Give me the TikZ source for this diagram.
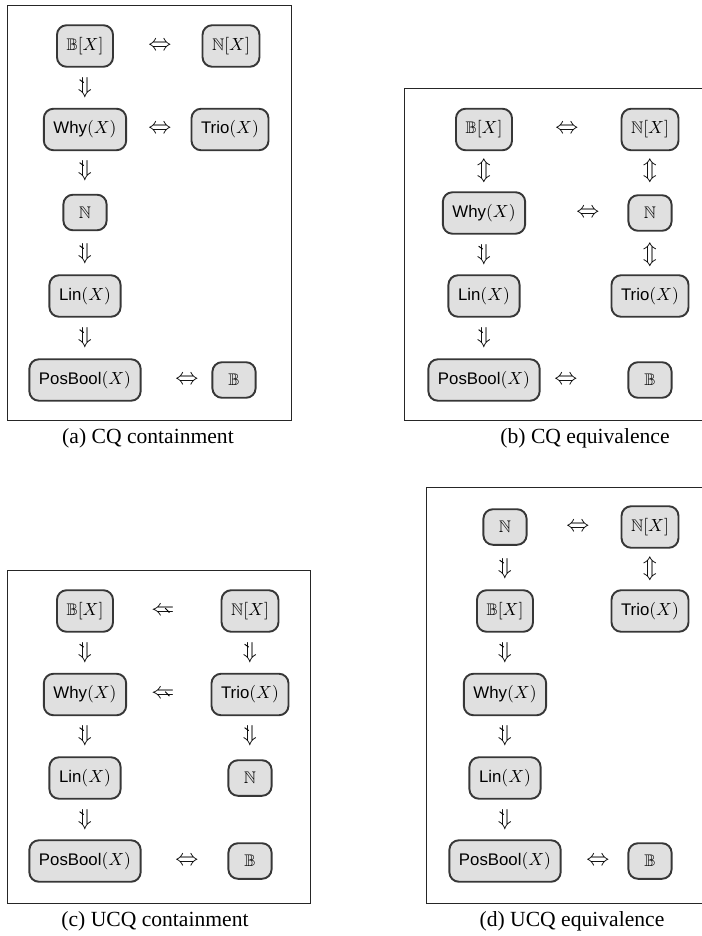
\documentclass[tikz,border=0pt]{standalone}
\usepackage[no-math]{fontspec}
\setmainfont{Liberation Serif}
\setsansfont{Liberation Sans}
\usepackage{amssymb}
\usetikzlibrary{positioning}
\usetikzlibrary{calc}
\definecolor{boxgray}{RGB}{224,224,224}
\definecolor{edgegray}{RGB}{55,55,55}
\newcommand\mybox[4][]{%
  \node[mybox,#1] (#2) at (#3) {#4};
}
\newcommand\myrel[4][]{%
  \node[rel,#1] (#2) at (#3) {#4};
}

\begin{document}
\begin{tikzpicture}[
x=0.625pt,y=-0.625pt,
mybox/.style={
  draw=edgegray,
  fill=boxgray,
  line width=1.2pt,
  rounded corners=6pt,
  minimum width=27pt,
  inner xsep=6pt,
  inner ysep=7.5pt,
  font=\sffamily\fontsize{10.5}{12}\selectfont},
rel/.style={inner sep=0pt,font=\fontsize{15}{17}\selectfont},
sdown/.style={rel,
  path picture={\draw[line width=0.6pt]
    ($(path picture bounding box.center)+(-3.4pt,5.2pt)$) -- ++(2.6pt,-1.8pt);}},
sleft/.style={rel,
  path picture={\draw[line width=0.6pt]
    ($(path picture bounding box.center)+(1.4pt,1.8pt)$) -- ++(2.6pt,-2.8pt);}},
frame/.style={draw=black!85,line width=0.6pt},
caption/.style={font=\fontsize{13.5}{16}\selectfont\rmfamily}
]
\useasboundingbox (0,0) rectangle (701,936);

% (a) CQ containment
\draw[frame] (7,5) rectangle (291,420);
\mybox{aBX}{85,46}{$\mathbb{B}[X]$}
\mybox{aNX}{231,46}{$\mathbb{N}[X]$}
\mybox{aWhy}{85,129.5}{Why$(X)$}
\mybox{aTrio}{230,129.5}{Trio$(X)$}
\mybox{aN}{85,212.5}{$\mathbb{N}$}
\mybox{aLin}{85,296}{Lin$(X)$}
\mybox{aPB}{85,380}{PosBool$(X)$}
\mybox{aB}{234,380}{$\mathbb{B}$}
\myrel{aR1}{160,46}{$\Leftrightarrow$}
\myrel{aR2}{160,129.5}{$\Leftrightarrow$}
\myrel{aR3}{187,380}{$\Leftrightarrow$}
\myrel[sdown]{aD1}{85,88}{$\Downarrow$}
\myrel[sdown]{aD2}{85,171}{$\Downarrow$}
\myrel[sdown]{aD3}{85,254}{$\Downarrow$}
\myrel[sdown]{aD4}{85,338}{$\Downarrow$}
\node[caption] (capA) at (148,438) {(a) CQ containment};

% (b) CQ equivalence
\draw[frame] (404,88) rectangle (703,420);
\mybox{bBX}{484,129.5}{$\mathbb{B}[X]$}
\mybox{bNX}{650,129.5}{$\mathbb{N}[X]$}
\mybox{bWhy}{484,213}{Why$(X)$}
\mybox{bN}{650,213}{$\mathbb{N}$}
\mybox{bLin}{484,296}{Lin$(X)$}
\mybox{bTrio}{650,296}{Trio$(X)$}
\mybox{bPB}{484,380}{PosBool$(X)$}
\mybox{bB}{650,380}{$\mathbb{B}$}
\myrel{bR1}{567,129.5}{$\Leftrightarrow$}
\myrel{bR2}{588,213}{$\Leftrightarrow$}
\myrel{bR3}{566,380}{$\Leftrightarrow$}
\myrel{bU1}{484,171}{$\Updownarrow$}
\myrel{bU2}{650,171}{$\Updownarrow$}
\myrel{bU3}{650,254.5}{$\Updownarrow$}
\myrel[sdown]{bD1}{484,254.5}{$\Downarrow$}
\myrel[sdown]{bD2}{484,338}{$\Downarrow$}
\node[caption] (capB) at (585,438) {(b) CQ equivalence};

% (c) UCQ containment
\draw[frame] (7,570) rectangle (310,903);
\mybox{cBX}{85,611}{$\mathbb{B}[X]$}
\mybox{cNX}{250,611}{$\mathbb{N}[X]$}
\mybox{cWhy}{85,694.5}{Why$(X)$}
\mybox{cTrio}{250,694.5}{Trio$(X)$}
\mybox{cLin}{85,778}{Lin$(X)$}
\mybox{cN}{250,778}{$\mathbb{N}$}
\mybox{cPB}{85,861}{PosBool$(X)$}
\mybox{cB}{250,861}{$\mathbb{B}$}
\myrel[sleft]{cL1}{163,611}{$\Leftarrow$}
\myrel[sleft]{cL2}{163,694.5}{$\Leftarrow$}
\myrel{cR1}{187,861}{$\Leftrightarrow$}
\myrel[sdown]{cD1}{85,652.5}{$\Downarrow$}
\myrel[sdown]{cD2}{250,652.5}{$\Downarrow$}
\myrel[sdown]{cD3}{85,736}{$\Downarrow$}
\myrel[sdown]{cD4}{250,736}{$\Downarrow$}
\myrel[sdown]{cD5}{85,820}{$\Downarrow$}
\node[caption] (capC) at (155,921) {(c) UCQ containment};

% (d) UCQ equivalence
\draw[frame] (426,487) rectangle (703,903);
\mybox{dN}{505,527}{$\mathbb{N}$}
\mybox{dNX}{650,527}{$\mathbb{N}[X]$}
\mybox{dBX}{505,611}{$\mathbb{B}[X]$}
\mybox{dTrio}{650,611}{Trio$(X)$}
\mybox{dWhy}{505,694.5}{Why$(X)$}
\mybox{dLin}{505,778}{Lin$(X)$}
\mybox{dPB}{505,861}{PosBool$(X)$}
\mybox{dB}{650,861}{$\mathbb{B}$}
\myrel{dR1}{578,527}{$\Leftrightarrow$}
\myrel{dR2}{598,861}{$\Leftrightarrow$}
\myrel{dU1}{650,568.5}{$\Updownarrow$}
\myrel[sdown]{dD1}{505,568.5}{$\Downarrow$}
\myrel[sdown]{dD2}{505,652.5}{$\Downarrow$}
\myrel[sdown]{dD3}{505,736}{$\Downarrow$}
\myrel[sdown]{dD4}{505,820}{$\Downarrow$}
\node[caption] (capD) at (572,921) {(d) UCQ equivalence};
\end{tikzpicture}
\end{document}
